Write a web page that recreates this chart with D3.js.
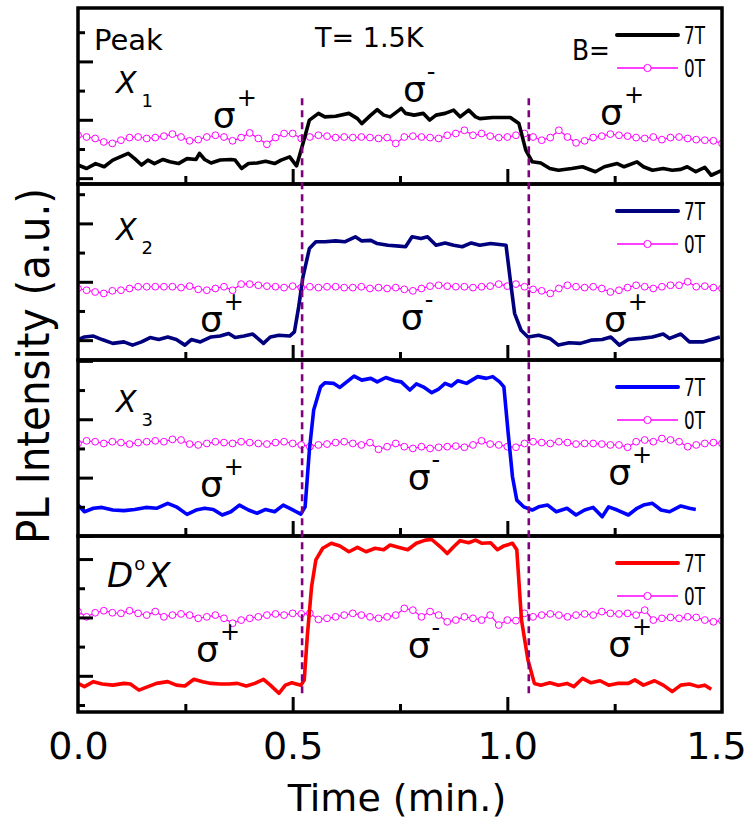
<!DOCTYPE html>
<html>
<head>
<meta charset="utf-8">
<script src="https://cdn.jsdelivr.net/npm/d3@7"></script>
<style>
  body { margin: 0; background: #fff; }
  text { font-family: "DejaVu Sans", sans-serif; fill: #000; }
</style>
</head>
<body>
<svg id="chart" width="748" height="825"></svg>
<script>
// ---- data (intensity in arbitrary units, one unit = one y tick) ----
const panelNames = ['X1', 'X2', 'X3', 'D0X'];
const lineColors = ['#000000', '#00007f', '#0000ff', '#ff0000'];
const yDomains = [[-0.2, 5.83], [-0.68, 5.35], [0, 6.03], [0.76, 6.79]];
const switchTimes = [0.522, 1.05];
const xTickLabels = [0, 0.5, 1.0, 1.5];
const xMinorTicks = [0.25, 0.75, 1.25];

// 7T traces
const t7X1 = [0,0.020,0.041,0.061,0.081,0.117,0.132,0.148,0.163,0.178,0.198,0.214,0.234,0.254,0.275,0.283,0.295,0.310,0.331,0.356,0.366,0.381,0.397,0.417,0.437,0.458,0.473,0.493,0.509,0.524,0.539,0.560,0.575,0.600,0.631,0.651,0.661,0.682,0.697,0.712,0.727,0.748,0.753,0.763,0.783,0.804,0.819,0.834,0.855,0.875,0.890,0.910,0.926,0.936,0.966,1.007,1.027,1.043,1.058,1.078,1.099,1.119,1.150,1.175,1.205,1.226,1.256,1.272,1.302,1.317,1.338,1.363,1.384,1.404,1.419,1.439,1.460,1.475,1.5];
const v7X1 = [0.45,0.33,0.50,0.39,0.62,0.85,0.67,0.45,0.62,0.50,0.64,0.56,0.50,0.67,0.64,0.85,0.64,0.52,0.62,0.64,0.62,0.33,0.50,0.52,0.58,0.50,0.62,0.73,0.42,1.19,1.99,2.22,2.10,2.12,2.22,2.04,1.87,2.16,2.35,2.16,2.10,2.33,2.39,2.22,2.16,2.22,1.99,2.16,2.22,2.33,2.10,2.33,2.10,2.04,2.08,2.08,1.87,0.96,0.56,0.52,0.33,0.27,0.33,0.39,0.22,0.39,0.50,0.39,0.56,0.39,0.27,0.33,0.27,0.30,0.39,0.22,0.37,0.10,0.27];

const t7X2 = [0,0.015,0.036,0.056,0.081,0.107,0.127,0.148,0.168,0.188,0.209,0.229,0.249,0.264,0.285,0.310,0.331,0.351,0.366,0.387,0.407,0.432,0.448,0.468,0.493,0.504,0.514,0.524,0.539,0.554,0.575,0.600,0.621,0.646,0.661,0.682,0.697,0.722,0.748,0.763,0.778,0.799,0.814,0.834,0.855,0.875,0.895,0.916,0.936,0.961,0.997,1.007,1.017,1.032,1.048,1.073,1.099,1.119,1.144,1.170,1.195,1.221,1.241,1.261,1.282,1.312,1.338,1.363,1.378,1.404,1.424,1.455,1.475,1.495];
const v7X2 = [0.02,0.11,0.14,0.02,-0.11,-0.06,-0.17,-0.06,0.09,0.02,0.11,0.02,-0.17,0.02,-0.06,0.11,0.14,0.23,0.09,0.14,0.21,-0.11,0.11,0.17,0.14,0.28,1.14,2.17,3.14,3.37,3.37,3.40,3.37,3.54,3.40,3.42,3.31,3.25,3.22,3.20,3.54,3.48,3.54,3.25,3.33,3.25,3.20,3.33,3.25,3.31,3.25,2.05,0.91,0.34,0.11,0.17,0.06,-0.17,-0.09,-0.11,0,0.02,0.11,-0.17,0.02,0.06,0.11,0.21,0.06,0.21,-0.06,-0.06,0.02,0.11];

const t7X3 = [0,0.015,0.036,0.056,0.081,0.107,0.132,0.158,0.183,0.209,0.229,0.254,0.275,0.295,0.315,0.336,0.356,0.376,0.397,0.417,0.437,0.458,0.478,0.498,0.519,0.529,0.539,0.549,0.565,0.575,0.595,0.610,0.626,0.643,0.661,0.682,0.697,0.717,0.738,0.753,0.773,0.788,0.804,0.824,0.839,0.855,0.870,0.885,0.905,0.931,0.951,0.966,0.982,0.992,1.002,1.012,1.022,1.038,1.058,1.073,1.094,1.114,1.139,1.160,1.180,1.200,1.221,1.236,1.256,1.282,1.302,1.317,1.338,1.358,1.378,1.404,1.424,1.439];
const v7X3 = [1.06,0.83,0.95,0.98,0.89,0.87,0.91,0.98,0.95,1.12,1.00,0.74,0.89,0.95,0.91,0.72,0.83,1.06,0.89,0.78,0.91,0.83,1.06,0.91,0.75,1.00,2.95,4.32,5.11,5.25,5.23,5.09,5.28,5.48,5.34,5.40,5.28,5.43,5.32,5.28,5.00,5.21,5.11,4.91,5.02,5.23,5.14,5.32,5.23,5.46,5.40,5.46,5.28,5.11,3.52,2.03,1.23,1.00,0.89,1.00,1.06,0.83,0.95,0.72,0.89,0.98,0.66,1.00,0.89,0.72,0.95,1.06,1.12,0.89,0.83,1.03,0.95,0.91];

const t7D0X = [0,0.015,0.036,0.056,0.081,0.107,0.122,0.142,0.163,0.183,0.209,0.229,0.249,0.270,0.290,0.310,0.331,0.351,0.371,0.392,0.412,0.432,0.448,0.468,0.483,0.498,0.519,0.527,0.534,0.544,0.554,0.570,0.590,0.610,0.631,0.651,0.671,0.692,0.712,0.727,0.748,0.768,0.788,0.809,0.824,0.844,0.860,0.875,0.890,0.910,0.926,0.941,0.961,0.977,0.992,1.012,1.022,1.033,1.048,1.063,1.078,1.099,1.119,1.139,1.155,1.175,1.195,1.216,1.236,1.256,1.282,1.297,1.317,1.343,1.363,1.384,1.404,1.424,1.445,1.460,1.475];
const v7D0X = [1.74,1.63,1.80,1.72,1.68,1.74,1.72,1.51,1.63,1.74,1.80,1.68,1.65,1.88,1.80,1.74,1.72,1.72,1.74,1.65,1.74,1.88,1.68,1.40,1.68,1.76,1.68,1.86,3.34,5.05,5.97,6.37,6.54,6.45,6.25,6.40,6.25,6.37,6.32,6.48,6.40,6.32,6.54,6.65,6.67,6.42,6.19,6.42,6.63,6.56,6.65,6.54,6.56,6.32,6.45,6.54,6.32,3.91,2.54,1.74,1.68,1.76,1.68,1.74,1.63,1.91,1.76,1.83,1.68,1.74,1.74,1.86,1.68,1.83,1.68,1.46,1.68,1.72,1.63,1.68,1.54];

// 0T traces, sampled every 0.02 min from 0 to 1.5
const t0 = d3.range(76).map((i) => i * 0.02);
const v0X1 = [1.47,1.41,1.36,1.24,1.19,1.30,1.39,1.41,1.36,1.39,1.44,1.51,1.41,1.28,1.32,1.41,1.47,1.41,1.28,1.39,1.55,1.36,1.16,1.39,1.53,1.53,1.36,1.41,1.47,1.44,1.39,1.41,1.39,1.41,1.39,1.36,1.39,1.19,1.41,1.44,1.41,1.39,1.36,1.47,1.53,1.64,1.47,1.53,1.44,1.39,1.41,1.47,1.53,1.41,1.30,1.39,1.64,1.41,1.21,1.28,1.39,1.44,1.51,1.47,1.44,1.39,1.36,1.41,1.32,1.39,1.41,1.36,1.32,1.30,1.28,1.19];
const v0X2 = [1.77,1.71,1.65,1.60,1.69,1.71,1.77,1.83,1.83,1.83,1.83,1.83,1.80,1.85,1.74,1.71,1.77,1.83,1.71,1.92,1.92,1.88,1.85,1.83,1.80,1.85,1.80,1.83,1.80,1.83,1.83,1.80,1.80,1.83,1.77,1.80,1.77,1.80,1.74,1.69,1.77,1.85,1.88,1.85,1.83,1.83,1.80,1.83,1.85,1.92,1.85,1.92,1.83,1.74,1.69,1.60,1.77,1.88,1.83,1.80,1.83,1.77,1.65,1.71,1.80,1.88,1.83,1.77,1.83,1.88,1.88,2.00,1.83,1.85,1.80,1.77];
const v0X3 = [3.17,3.26,3.23,3.17,3.23,3.20,3.15,3.20,3.23,3.26,3.23,3.31,3.29,3.15,3.12,3.17,3.23,3.20,3.17,3.23,3.20,3.17,3.15,3.20,3.23,3.17,3.12,3.06,3.12,3.15,3.20,3.23,3.17,3.12,3.20,2.97,3.06,3.17,3.06,3.00,3.06,3.00,3.04,3.06,3.08,3.04,3.12,3.26,3.15,3.12,3.06,3.04,3.17,3.23,3.20,3.17,3.23,3.20,3.15,3.17,3.17,3.15,3.12,3.12,3.04,3.23,3.29,3.23,3.34,3.29,3.23,3.06,3.12,3.17,3.20,3.17];
const v0D0X = [4.20,4.02,4.16,4.23,4.16,4.14,4.23,4.14,4.08,4.20,4.02,4.08,4.12,4.08,3.97,4.02,4.08,3.97,3.80,3.91,3.97,4.02,4.08,4.12,4.08,4.14,4.12,4.14,3.93,3.97,4.02,4.08,4.14,4.08,4.02,3.97,4.02,4.08,4.31,4.25,4.02,4.20,4.08,3.85,3.91,4.02,3.97,3.91,4.08,3.74,3.91,3.89,4.14,4.02,4.08,4.12,4.08,4.02,4.08,4.12,4.08,4.20,4.14,4.12,4.14,4.08,4.25,3.91,3.97,4.00,3.97,4.02,4.00,3.91,3.85,3.89];

const trace7T = [[t7X1, v7X1], [t7X2, v7X2], [t7X3, v7X3], [t7D0X, v7D0X]];
const trace0T = [v0X1, v0X2, v0X3, v0D0X];

// sigma annotations: [time, intensity, sign] per panel
const sigmaLabels = [
  [[0.314, 1.71, '+'], [0.757, 2.60, '-'], [1.216, 1.82, '+']],
  [[0.284, 0.27, '+'], [0.752, 0.34, '-'], [1.225, 0.27, '+']],
  [[0.284, 1.34, '+'], [0.768, 1.58, '-'], [1.235, 1.75, '+']],
  [[0.275, 2.47, '+'], [0.768, 2.61, '-'], [1.235, 2.64, '+']],
];

// ---- layout ----
const W = 748, H = 825;
const margin = { top: 8, right: 26, bottom: 113, left: 78 };
const svg = d3.select('#chart');

const x = d3.scaleLinear().domain([0, 1.5]).range([margin.left, W - margin.right]);
const band = d3.scaleBand().domain(panelNames).range([margin.top, H - margin.bottom]);
const ph = band.bandwidth();
const labelDy = [85, 56, 52, 51];

const yScales = [];

panelNames.forEach((name, i) => {
  const top = band(name);
  const y = d3.scaleLinear().domain(yDomains[i]).range([top + ph, top]);
  yScales.push(y);

  const clipId = 'clip-' + i;
  svg.append('clipPath').attr('id', clipId)
    .append('rect')
    .attr('x', x(0)).attr('y', top)
    .attr('width', x(1.5) - x(0)).attr('height', ph);

  const g = svg.append('g').attr('clip-path', `url(#${clipId})`);

  // 0T trace: thin line with open circles
  const data0 = d3.zip(t0, trace0T[i]);
  const line = d3.line().x((d) => x(d[0])).y((d) => y(d[1]));
  g.append('path')
    .attr('d', line(data0))
    .attr('fill', 'none')
    .attr('stroke', '#ff00ff')
    .attr('stroke-width', 1.2);
  g.selectAll('circle.off')
    .data(data0)
    .join('circle')
    .attr('class', 'off')
    .attr('cx', (d) => x(d[0]))
    .attr('cy', (d) => y(d[1]))
    .attr('r', 3.4)
    .attr('fill', '#fff')
    .attr('stroke', '#ff00ff')
    .attr('stroke-width', 1);

  // 7T trace
  const data7 = d3.zip(trace7T[i][0], trace7T[i][1]);
  g.append('path')
    .attr('d', line(data7))
    .attr('fill', 'none')
    .attr('stroke', lineColors[i])
    .attr('stroke-width', 3.6)
    .attr('stroke-linejoin', 'round');

  // inward ticks
  const [lo, hi] = yDomains[i];
  const yt = d3.range(Math.ceil(lo), Math.floor(hi) + 1);
  svg.append('g').attr('class', 'tick-y')
    .attr('transform', `translate(${x(0)},0)`)
    .call(d3.axisRight(y).tickValues(yt.filter((v) => v % 2 === 0)).tickSize(15).tickFormat(''));
  svg.append('g').attr('class', 'tick-y')
    .attr('transform', `translate(${x(0)},0)`)
    .call(d3.axisRight(y).tickValues(yt.filter((v) => Math.abs(v % 2) === 1)).tickSize(7).tickFormat(''));
  svg.append('g').attr('class', 'tick-x')
    .attr('transform', `translate(0,${top + ph})`)
    .call(d3.axisTop(x).tickValues([0.5, 1.0]).tickSize(15).tickFormat(''));
  svg.append('g').attr('class', 'tick-x')
    .attr('transform', `translate(0,${top + ph})`)
    .call(d3.axisTop(x).tickValues(xMinorTicks).tickSize(8).tickFormat(''));

  // sigma labels
  sigmaLabels[i].forEach(([t, v, sign]) => {
    const txt = svg.append('text')
      .attr('x', x(t)).attr('y', y(v))
      .attr('font-size', 36);
    txt.append('tspan').text('σ');
    txt.append('tspan').attr('dy', -22).attr('dx', 1).attr('font-size', 24).text(sign);
  });

  // panel label
  const lab = svg.append('text').attr('y', top + labelDy[i]);
  if (name === 'D0X') {
    lab.attr('x', 107);
    lab.append('tspan').attr('font-style', 'italic').attr('font-size', 34).text('D');
    lab.append('tspan').attr('font-size', 18).attr('dy', -17).attr('dx', 1).text('o');
    lab.append('tspan').attr('font-style', 'italic').attr('font-size', 34).attr('dy', 17).attr('dx', 2).text('X');
  } else {
    lab.attr('x', 116);
    lab.append('tspan').attr('font-style', 'italic').attr('font-size', 30).text('X');
    lab.append('tspan').attr('font-size', 18).attr('dy', 14).attr('dx', 5).text(name.slice(1));
  }

  // legend
  const ly1 = top + 27, ly2 = top + 60;
  svg.append('line')
    .attr('x1', 617).attr('x2', 678).attr('y1', ly1).attr('y2', ly1)
    .attr('stroke', lineColors[i]).attr('stroke-width', 4).attr('stroke-linecap', 'round');
  svg.append('line')
    .attr('x1', 617).attr('x2', 678).attr('y1', ly2).attr('y2', ly2)
    .attr('stroke', '#ff00ff').attr('stroke-width', 1.5);
  svg.append('circle')
    .attr('cx', 647.5).attr('cy', ly2).attr('r', 3.6)
    .attr('fill', '#fff').attr('stroke', '#ff00ff').attr('stroke-width', 1);
  svg.append('text').attr('x', 684).attr('y', ly1 + 9).attr('font-size', 24)
    .attr('textLength', 21).attr('lengthAdjust', 'spacingAndGlyphs').text('7T');
  svg.append('text').attr('x', 684).attr('y', ly2 + 9).attr('font-size', 24)
    .attr('textLength', 21).attr('lengthAdjust', 'spacingAndGlyphs').text('0T');

  // panel frame
  svg.append('rect')
    .attr('x', x(0)).attr('y', top)
    .attr('width', x(1.5) - x(0)).attr('height', ph)
    .attr('fill', 'none').attr('stroke', '#000').attr('stroke-width', 3.5);
});

svg.selectAll('.tick-y, .tick-x').select('.domain').remove();
svg.selectAll('.tick-y line, .tick-x line').attr('stroke', '#000').attr('stroke-width', 3);

// switching times (dashed)
const dashTop = yScales[0](2.74);
const dashBottom = yScales[3](1.27);
svg.selectAll('line.switch')
  .data(switchTimes)
  .join('line')
  .attr('class', 'switch')
  .attr('x1', (d) => x(d)).attr('x2', (d) => x(d))
  .attr('y1', dashTop).attr('y2', dashBottom)
  .attr('stroke', '#800080')
  .attr('stroke-width', 2.6)
  .attr('stroke-dasharray', '7,5');

// header texts in first panel
const top0 = band(panelNames[0]);
svg.append('text').attr('x', 94).attr('y', top0 + 42).attr('font-size', 29).text('Peak');
svg.append('text').attr('x', 315).attr('y', top0 + 39).attr('font-size', 27).text('T= 1.5K');
svg.append('text').attr('x', 572).attr('y', top0 + 52).attr('font-size', 29)
  .attr('textLength', 38).attr('lengthAdjust', 'spacingAndGlyphs').text('B=');

// bottom axis labels
const xAxis = svg.append('g')
  .attr('transform', `translate(0,${H - margin.bottom})`)
  .call(d3.axisBottom(x).tickValues(xTickLabels).tickSize(0).tickPadding(20).tickFormat(d3.format('.1f')));
xAxis.select('.domain').remove();
xAxis.selectAll('text')
  .attr('font-size', 38)
  .attr('font-family', '"DejaVu Sans", sans-serif')
  .attr('fill', '#000')
  .attr('dx', (d) => (d === 1.5 ? -6 : 0));

svg.append('text')
  .attr('x', 397).attr('y', 811)
  .attr('text-anchor', 'middle')
  .attr('font-size', 38)
  .text('Time (min.)');

svg.append('text')
  .attr('transform', 'translate(49,366) rotate(-90)')
  .attr('text-anchor', 'middle')
  .attr('font-size', 44)
  .attr('textLength', 356)
  .attr('lengthAdjust', 'spacingAndGlyphs')
  .text('PL Intensity (a.u.)');
</script>
</body>
</html>
